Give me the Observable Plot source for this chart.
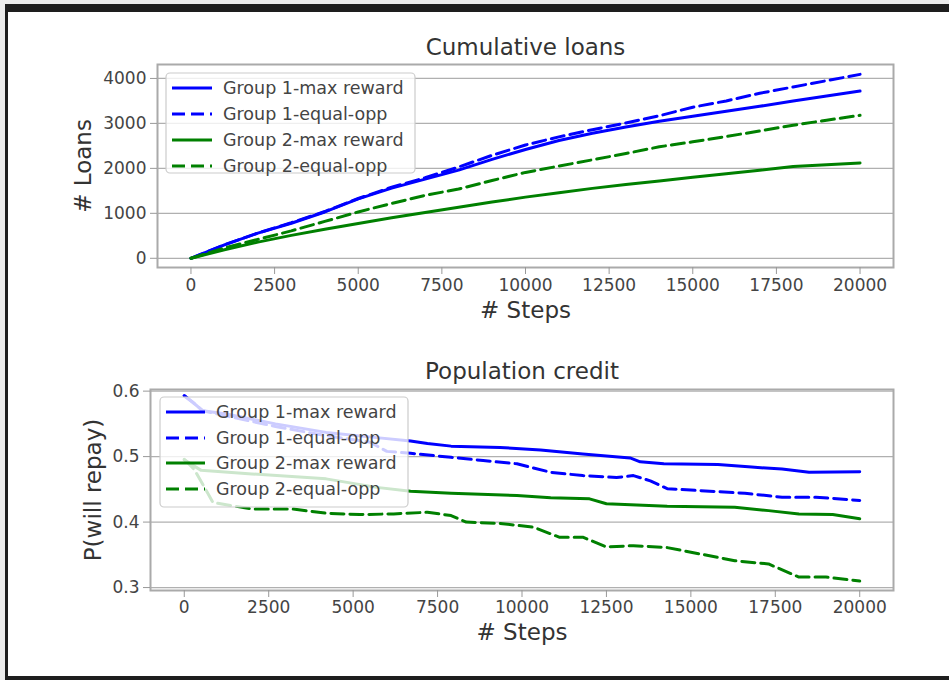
<!DOCTYPE html>
<html><head><meta charset="utf-8">
<script src="https://cdn.jsdelivr.net/npm/d3@7"></script>
<script src="https://cdn.jsdelivr.net/npm/@observablehq/plot@0.6"></script>
<style>
body{margin:0;background:#fff;}
#page{position:relative;width:949px;height:680px;overflow:hidden;background:#fff;font-family:"DejaVu Sans",sans-serif;}
#page > *{position:absolute;}
</style></head><body><div id="page"></div>
<script>
// ---------- data: cumulative loans ----------
const loanSteps = [0,1000,2000,3000,4000,5000,6000,7000,8000,9000,10000,11000,12000,13000,14000,15000,16000,17000,18000,19000,20000];
const loansG1Max = [0,300,560,780,1030,1320,1560,1760,1960,2200,2420,2620,2780,2920,3050,3160,3270,3380,3500,3610,3720];
const loansG1Eq  = [0,300,560,790,1040,1330,1580,1790,2030,2290,2520,2700,2860,3010,3170,3360,3500,3670,3810,3950,4090];
const loansG2Max = [0,190,360,510,645,775,900,1020,1135,1250,1360,1460,1555,1640,1720,1800,1880,1960,2040,2080,2120];
const loansG2Eq  = [0,230,420,610,820,1030,1220,1400,1540,1730,1910,2050,2190,2330,2480,2590,2710,2830,2960,3070,3180];

// ---------- data: population credit ----------
const creditG1MaxSteps = [0,250,550,1250,2700,4200,5700,6700,7200,7900,9350,10550,11800,13200,13500,14200,15800,16800,17700,18500,20000];
const creditG1MaxVals  = [0.593,0.583,0.570,0.565,0.550,0.537,0.529,0.524,0.520,0.516,0.514,0.510,0.504,0.498,0.492,0.489,0.488,0.484,0.481,0.476,0.477];
const creditG1EqSteps  = [0,250,550,1250,2700,4200,5500,6000,6700,7900,8850,9850,10850,11800,12800,13300,13800,14300,15300,16600,17700,18700,20000];
const creditG1EqVals   = [0.593,0.583,0.570,0.562,0.546,0.532,0.522,0.508,0.505,0.499,0.494,0.489,0.476,0.471,0.468,0.471,0.463,0.451,0.448,0.444,0.438,0.438,0.433];
const creditG2MaxSteps = [0,500,2000,4200,5700,6700,7900,9850,10850,12000,12500,14300,16300,17300,18200,19200,20000];
const creditG2MaxVals  = [0.495,0.479,0.4735,0.466,0.453,0.447,0.444,0.4405,0.437,0.4355,0.428,0.424,0.4225,0.4175,0.4125,0.4115,0.405];
const creditG2EqSteps  = [0,300,850,2000,3200,4200,5200,6200,7200,7900,8350,9350,10350,11100,11800,12500,13300,14300,15300,16300,17300,18200,19000,20000];
const creditG2EqVals   = [0.496,0.480,0.430,0.420,0.420,0.4135,0.4115,0.4125,0.415,0.410,0.400,0.398,0.392,0.377,0.377,0.362,0.364,0.361,0.351,0.341,0.336,0.316,0.316,0.310];

// ---------- ticks / labels ----------
const stepTicks = [0,2500,5000,7500,10000,12500,15000,17500,20000];
const loanTicks = [0,1000,2000,3000,4000];
const creditTicks = [0.3,0.4,0.5,0.6];
const seriesLabels = ["Group 1-max reward","Group 1-equal-opp","Group 2-max reward","Group 2-equal-opp"];
const seriesColors = ["#0000ff","#0000ff","#008000","#008000"];
const seriesDash = [null,"13,6",null,"13,6"];

const rows = (steps, vals) => steps.map((s,i)=>({step:s, value:vals[i]}));
const loanSeries = [loansG1Max,loansG1Eq,loansG2Max,loansG2Eq].map(v=>rows(loanSteps,v));
const creditSeries = [
  rows(creditG1MaxSteps,creditG1MaxVals), rows(creditG1EqSteps,creditG1EqVals),
  rows(creditG2MaxSteps,creditG2MaxVals), rows(creditG2EqSteps,creditG2EqVals)];

const lineMarks = (series) => series.map((d,i)=>Plot.line(d,{x:"step",y:"value",stroke:seriesColors[i],strokeWidth:3,strokeDasharray:seriesDash[i]||undefined}));

const style = {fontFamily:"DejaVu Sans, sans-serif", fontSize:"17px", color:"#444", background:"transparent", overflow:"visible"};

const chart1 = Plot.plot({
  width:949, height:330, marginLeft:157, marginRight:56, marginTop:64, marginBottom:63,
  style,
  x:{domain:[-1000,21000]}, y:{domain:[-205,4310]},
  marks:[
    Plot.gridY(loanTicks,{stroke:"#b0b0b0",strokeOpacity:1,strokeWidth:1.3}),
    Plot.frame({stroke:"#aaaaaa",strokeWidth:2}),
    Plot.axisX(stepTicks,{tickSize:7,tickPadding:4,tickFormat:d=>String(d),label:null,stroke:"#999",fill:"#444"}),
    Plot.axisY(loanTicks,{tickSize:7,tickPadding:4,tickFormat:d=>String(d),label:null,stroke:"#999",fill:"#444"}),
    ...lineMarks(loanSeries),
    Plot.text(["Cumulative loans"],{text:d=>d,frameAnchor:"top",lineAnchor:"middle",dy:-17,fontSize:23,fill:"#333"}),
    Plot.text(["# Steps"],{text:d=>d,frameAnchor:"bottom",lineAnchor:"middle",dy:43,fontSize:23,fill:"#333"}),
    Plot.text(["# Loans"],{text:d=>d,frameAnchor:"left",textAnchor:"middle",lineAnchor:"middle",dx:-74,rotate:-90,fontSize:23,fill:"#333"})
  ]
});

const chart2 = Plot.plot({
  width:949, height:350, marginLeft:150, marginRight:56, marginTop:59, marginBottom:90,
  style,
  x:{domain:[-1000,21000]}, y:{domain:[0.2955,0.6025]},
  marks:[
    Plot.gridY(creditTicks,{stroke:"#b0b0b0",strokeOpacity:1,strokeWidth:1.3}),
    Plot.frame({stroke:"#aaaaaa",strokeWidth:2}),
    Plot.axisX(stepTicks,{tickSize:7,tickPadding:3,tickFormat:d=>String(d),label:null,stroke:"#999",fill:"#444"}),
    Plot.axisY(creditTicks,{tickSize:7,tickPadding:4,tickFormat:d3.format(".1f"),label:null,stroke:"#999",fill:"#444"}),
    ...lineMarks(creditSeries),
    Plot.text(["Population credit"],{text:d=>d,frameAnchor:"top",lineAnchor:"middle",dy:-18,fontSize:23,fill:"#333"}),
    Plot.text(["# Steps"],{text:d=>d,frameAnchor:"bottom",lineAnchor:"middle",dy:42,fontSize:23,fill:"#333"}),
    Plot.text(["P(will repay)"],{text:d=>d,frameAnchor:"left",textAnchor:"middle",lineAnchor:"middle",dx:-57,rotate:-90,fontSize:23,fill:"#333"})
  ]
});

const page = document.getElementById("page");
chart1.style.left="0px"; chart1.style.top="0px";
chart2.style.left="0px"; chart2.style.top="330px";
page.appendChild(chart1); page.appendChild(chart2);

// overlay: legends and screenshot border
const ov = d3.select(page).append("svg").attr("width",949).attr("height",680)
  .style("left","0px").style("top","0px").style("pointer-events","none");

function legend(x0,y0,w,h,rowY,sx0,sx1,tx){
  const g = ov.append("g");
  g.append("rect").attr("x",x0).attr("y",y0).attr("width",w).attr("height",h).attr("rx",4)
    .attr("fill","#fff").attr("fill-opacity",0.8).attr("stroke","#cccccc").attr("stroke-width",1.2);
  seriesLabels.forEach((lab,i)=>{
    g.append("line").attr("x1",sx0).attr("x2",sx1).attr("y1",rowY[i]).attr("y2",rowY[i])
      .attr("stroke",seriesColors[i]).attr("stroke-width",3).attr("stroke-dasharray",seriesDash[i]);
    g.append("text").attr("x",tx).attr("y",rowY[i]).attr("dy","0.35em")
      .attr("font-family","DejaVu Sans, sans-serif").attr("font-size",17.5).attr("fill","#444").text(lab);
  });
}
legend(166,73,249,100,[88,114,140,166],172,212,223);
legend(160,397,248,110,[412,438,463,489],166,205,216);

// screenshot frame
ov.append("rect").attr("x",0).attr("y",0).attr("width",949).attr("height",4).attr("fill","#ececec");
ov.append("rect").attr("x",0).attr("y",0).attr("width",5).attr("height",680).attr("fill","#ececec");
ov.append("rect").attr("x",5).attr("y",4).attr("width",944).attr("height",8).attr("fill","#1e1e1e");
ov.append("rect").attr("x",5).attr("y",4).attr("width",3).attr("height",676).attr("fill","#1e1e1e");
ov.append("rect").attr("x",5).attr("y",676).attr("width",944).attr("height",4).attr("fill","#1e1e1e");
</script></body></html>
